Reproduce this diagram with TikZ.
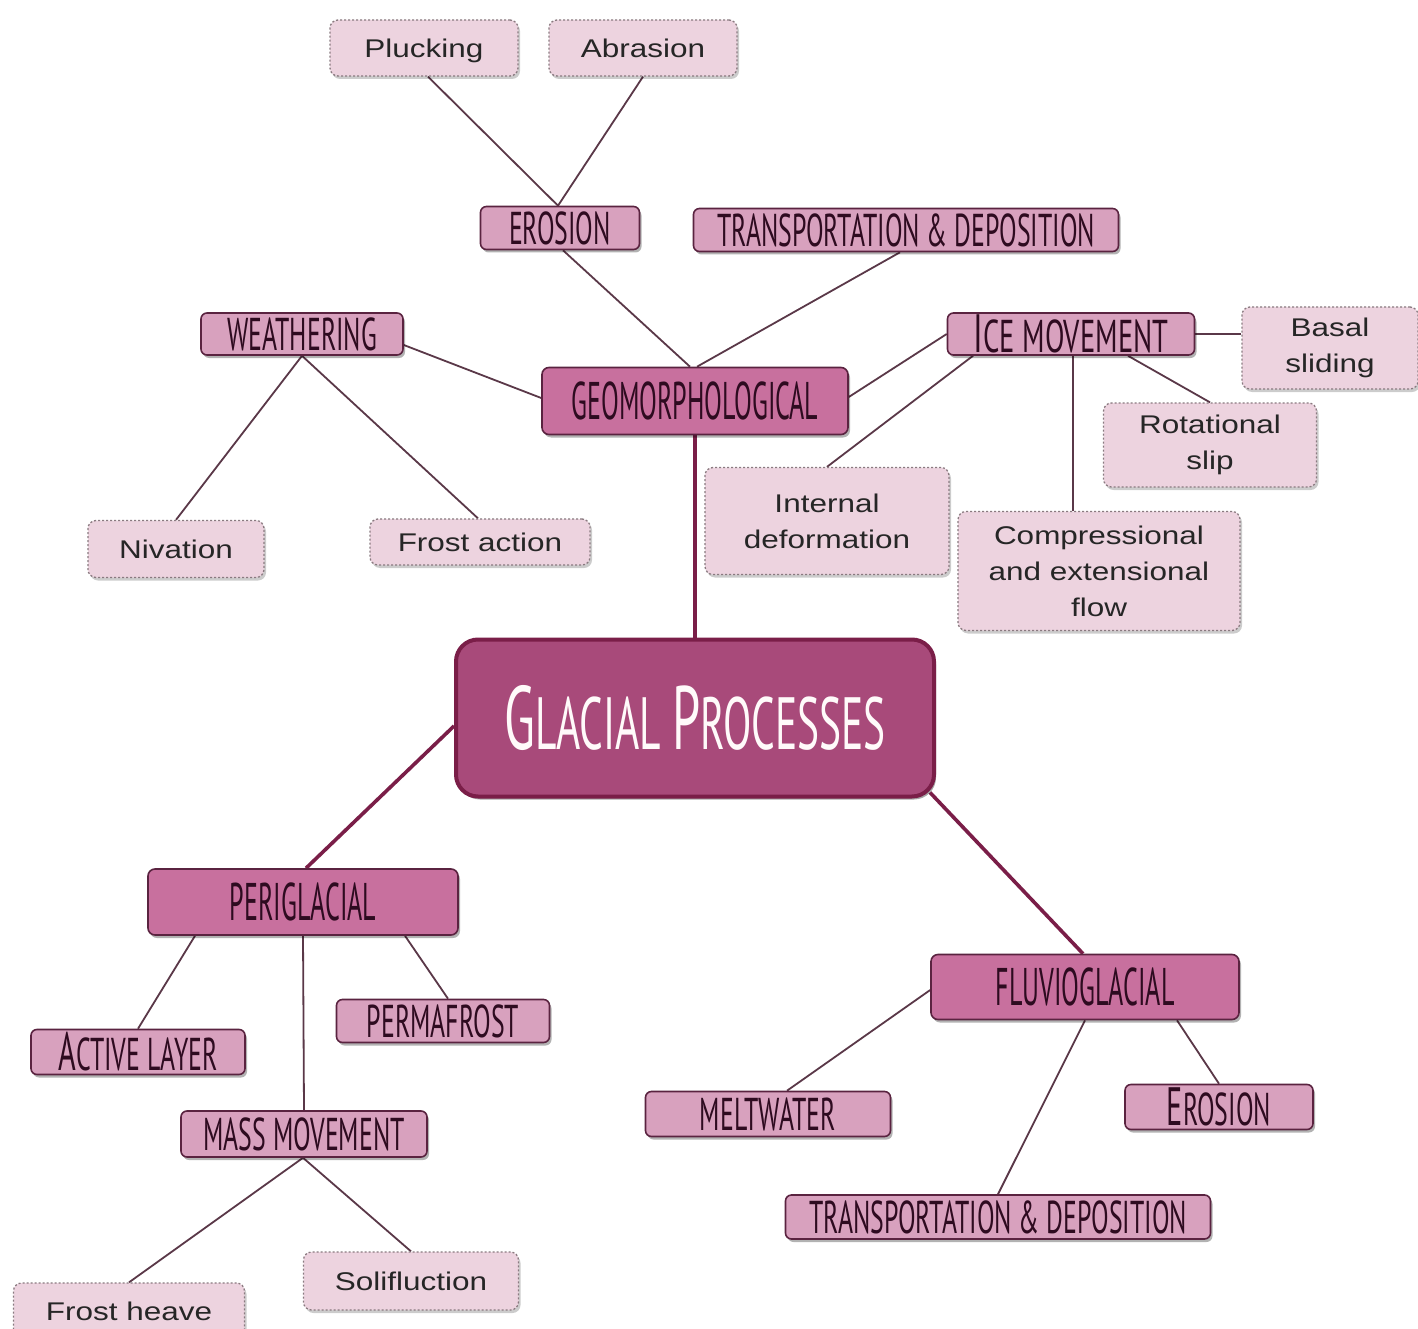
\documentclass[tikz,border=0pt]{standalone}
\usepackage{fontspec}
\usetikzlibrary{shadows,backgrounds}
\newfontfamily\amatic[FakeStretch=0.49]{PT Sans}
\newfontfamily\amaticw[FakeStretch=0.56]{PT Sans}
\newfontfamily\amaticww[FakeStretch=0.62]{PT Sans}
\newfontfamily\leaffont[FakeStretch=1.23]{Liberation Sans}
\definecolor{mainfill}{HTML}{A84A7A}
\definecolor{mainborder}{HTML}{7A1E48}
\definecolor{catfill}{HTML}{C8709E}
\definecolor{subfill}{HTML}{D8A1BE}
\definecolor{leaffill}{HTML}{EDD3DF}
\definecolor{boxline}{HTML}{5A2340}
\definecolor{txtdark}{HTML}{2E0B20}
\definecolor{linec}{HTML}{5A3848}
\definecolor{leafline}{HTML}{8A7A80}
\newcommand\capbig[1]{{\fontsize{54}{54}\selectfont #1}}
\newcommand\caphuge[1]{{\fontsize{90}{90}\selectfont #1}}
\tikzset{
  basebox/.style={align=center, inner sep=0pt, anchor=center},
  mainbox/.style={basebox, fill=mainfill, draw=mainborder, line width=4pt, rounded corners=22pt,
    text=white!92!pink, font=\fontsize{74}{74}\amaticw,
    drop shadow={shadow xshift=2pt, shadow yshift=-3pt, opacity=0.35, fill=black}},
  catbox/.style={basebox, fill=catfill, draw=boxline, line width=1.6pt, rounded corners=7pt,
    text=txtdark, font=\fontsize{53}{53}\amatic,
    drop shadow={shadow xshift=2pt, shadow yshift=-3pt, opacity=0.3, fill=black}},
  subbox/.style={basebox, fill=subfill, draw=boxline, line width=1.6pt, rounded corners=6pt,
    text=txtdark, font=\fontsize{46}{46}\amaticw,
    drop shadow={shadow xshift=2pt, shadow yshift=-3pt, opacity=0.3, fill=black}},
  leafbox/.style={basebox, fill=leaffill, draw=leafline, dash pattern=on 2pt off 2pt, line width=1.3pt,
    rounded corners=8pt, text=black!85, font=\fontsize{25.6}{36}\leaffont,
    drop shadow={shadow xshift=2pt, shadow yshift=-3pt, opacity=0.2, fill=black}},
  oneline/.style={text height=18.3pt, text depth=0pt},
  link/.style={draw=linec, line width=1.8pt},
  biglink/.style={draw=mainborder, line width=3.6pt}
}
\begin{document}
\begin{tikzpicture}[x=1pt,y=-1pt]
\useasboundingbox (0,0) rectangle (1418,1329);
% leaves
\node[leafbox, oneline, minimum width=188pt, minimum height=56pt] (pluck) at (424,48) {Plucking};
\node[leafbox, oneline, minimum width=188pt, minimum height=56pt] (abr) at (643,48) {Abrasion};
\node[leafbox, minimum width=176pt, minimum height=82pt] (basal) at (1330,348) {Basal\\sliding};
\node[leafbox, minimum width=213pt, minimum height=84pt] (rot) at (1210,445) {Rotational\\slip};
\node[leafbox, minimum width=244pt, minimum height=107pt] (intdef) at (827,521) {Internal\\deformation};
\node[leafbox, minimum width=282pt, minimum height=119pt] (comp) at (1099,571) {Compressional\\and extensional\\flow};
\node[leafbox, oneline, minimum width=176pt, minimum height=57pt] (niv) at (176,549) {Nivation};
\node[leafbox, oneline, minimum width=220pt, minimum height=46pt] (frost) at (480,542) {Frost action};
\node[leafbox, oneline, minimum width=231pt, minimum height=56pt] (heave) at (129,1311) {Frost heave};
\node[leafbox, oneline, minimum width=215pt, minimum height=58pt] (sol) at (411,1281) {Solifluction};
% sub boxes
\node[subbox, minimum width=159pt, minimum height=43pt] (eros) at (560,228) {EROSION};
\node[subbox, minimum width=425pt, minimum height=43pt] (tdtop) at (906,230) {TRANSPORTATION \& DEPOSITION};
\node[subbox, minimum width=202pt, minimum height=42pt] (weath) at (302,334) {WEATHERING};
\node[subbox, font=\fontsize{46}{46}\amaticww, minimum width=247pt, minimum height=42pt] (ice) at (1071,334) {\capbig{I}CE MOVEMENT};
\node[subbox, minimum width=213pt, minimum height=43pt] (perma) at (443,1021) {PERMAFROST};
\node[subbox, minimum width=214pt, minimum height=45pt] (active) at (138,1052) {\capbig{A}CTIVE LAYER};
\node[subbox, minimum width=246pt, minimum height=46pt] (mass) at (304,1134) {MASS MOVEMENT};
\node[subbox, minimum width=245pt, minimum height=45pt] (melt) at (768,1114) {MELTWATER};
\node[subbox, minimum width=188pt, minimum height=45pt] (erosb) at (1219,1107) {\capbig{E}ROSION};
\node[subbox, minimum width=425pt, minimum height=44pt] (tdbot) at (998,1217) {TRANSPORTATION \& DEPOSITION};
% categories
\node[catbox, minimum width=306pt, minimum height=67pt] (geo) at (695,401) {GEOMORPHOLOGICAL};
\node[catbox, minimum width=310pt, minimum height=66pt] (peri) at (303,902) {PERIGLACIAL};
\node[catbox, minimum width=308pt, minimum height=65pt] (fluv) at (1085,987) {FLUVIOGLACIAL};
% main
\node[mainbox, minimum width=478pt, minimum height=157pt] (main) at (695,718) {\caphuge{G}LACIAL \caphuge{P}ROCESSES};
\begin{pgfonlayer}{background}
\fill[white] (0,0) rectangle (1418,1329);
\draw[link] ([xshift=4pt]pluck.south) -- ([xshift=-2pt]eros.north);
\draw[link] (abr.south) -- ([xshift=-2pt]eros.north);
\draw[link] ([xshift=3pt]eros.south) -- ([xshift=-5pt]geo.north);
\draw[link] ([xshift=-6pt]tdtop.south) -- ([xshift=2pt]geo.north);
\draw[link] ([yshift=-11pt]weath.east) -- ([yshift=3pt]geo.west);
\draw[link] (weath.south) -- (niv.north);
\draw[link] (weath.south) -- ([xshift=-2pt]frost.north);
\draw[link] ([yshift=4pt]geo.east) -- (ice.west);
\draw[link] ([xshift=-98pt]ice.south) -- (intdef.north);
\draw[link] ([xshift=2pt]ice.south) -- ([xshift=-26pt]comp.north);
\draw[link] ([xshift=57pt]ice.south) -- (rot.north);
\draw[link] (ice.east) -- ([yshift=14pt]basal.west);
\draw[link] ([xshift=-108pt]peri.south) -- (active.north);
\draw[link] ([xshift=102pt]peri.south) -- ([xshift=5pt]perma.north);
\draw[link] (peri.south) -- (mass.north);
\draw[link] ([xshift=-1pt]mass.south) -- (heave.north);
\draw[link] ([xshift=-1pt]mass.south) -- (sol.north);
\draw[link] ([yshift=-3pt]fluv.west) -- ([xshift=19pt]melt.north);
\draw[link] ([xshift=92pt]fluv.south) -- (erosb.north);
\draw[link] (fluv.south) -- (tdbot.north);
\draw[biglink] (geo.south) -- (main.north);
\draw[biglink] ([yshift=-8pt]main.west) -- ([xshift=3pt]peri.north);
\draw[biglink] ([xshift=-6pt,yshift=6pt]main.south east) -- ([xshift=-2pt]fluv.north);
\end{pgfonlayer}
\end{tikzpicture}
\end{document}
